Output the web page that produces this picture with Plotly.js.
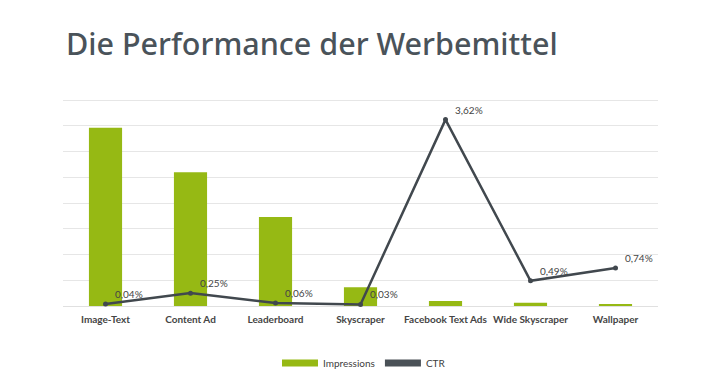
<!DOCTYPE html>
<html><head><meta charset="utf-8">
<script src="https://cdn.plot.ly/plotly-3.0.1.min.js"></script>
<style>html,body{margin:0;padding:0;background:#fff}#chart{width:728px;height:385px}</style>
</head><body><div id="chart"></div>
<script>
const categories = ['Image-Text','Content Ad','Leaderboard','Skyscraper','Facebook Text Ads','Wide Skyscraper','Wallpaper'];
const impressions = [6.92, 5.20, 3.46, 0.73, 0.19, 0.13, 0.08]; // relative units (axis hidden)
const ctr = [0.04, 0.25, 0.06, 0.03, 3.62, 0.49, 0.74]; // percent
const seriesNames = ['Impressions','CTR'];

const green = '#96b914';
const dark = '#41484e';
const font = 'Lato, "Open Sans", sans-serif';

const ctrLabels = ctr.map(v => v.toFixed(2).replace('.', ',') + '%');

const traces = [
  {type:'bar', x:categories, y:impressions, name:seriesNames[0], marker:{color:green},
   width:0.39, showlegend:false, hoverinfo:'skip'},
  {type:'scatter', mode:'lines+markers', x:categories, y:ctr, yaxis:'y2', name:seriesNames[1],
   line:{color:dark, width:2.5}, marker:{color:dark, size:5},
   cliponaxis:false, showlegend:false, hoverinfo:'skip'},
  {type:'scatter', mode:'lines', x:[categories[0]], y:[null], name:seriesNames[0],
   line:{color:green, width:7}, showlegend:true, hoverinfo:'skip'},
  {type:'scatter', mode:'lines', x:[categories[0]], y:[null], name:seriesNames[1], yaxis:'y2',
   line:{color:'#4a5157', width:7}, showlegend:true, hoverinfo:'skip'}
];

const annotations = categories.map((c, i) => ({
  x:c, y:ctr[i], xref:'x', yref:'y2', text:ctrLabels[i], showarrow:false,
  xanchor:'left', yanchor:'middle', xshift:7, yshift:10,
  font:{family:font, size:10, color:'#444'}
}));

const layout = {
  width:728, height:385,
  margin:{l:63, r:70, t:98, b:79},
  paper_bgcolor:'#fff', plot_bgcolor:'#fff',
  font:{family:font, color:'#404040'},
  title:{text:'Die Performance der Werbemittel', x:66/728, xanchor:'left', xref:'container',
         yref:'container', y:1-44/385, yanchor:'middle',
         font:{family:'"Noto Sans", sans-serif', size:30.5, color:'#4a535a', weight:500}},
  xaxis:{type:'category', showline:false, showgrid:false, zeroline:false, ticks:'',
         ticklabelstandoff:6,
         tickfont:{family:font, size:10, color:'#454545', weight:'bold'}},
  yaxis:{range:[0,8.08], dtick:1, showticklabels:false, showgrid:true, gridcolor:'#e6e6e6',
         gridwidth:1, zeroline:true, zerolinecolor:'#e0e0e0', zerolinewidth:1, ticks:''},
  yaxis2:{range:[0,4.04], overlaying:'y', side:'right', showticklabels:false, showgrid:false,
          zeroline:false, ticks:''},
  legend:{orientation:'h', x:0.5, xanchor:'center', xref:'container', y:1-363/385, yref:'container', yanchor:'middle',
          font:{family:font, size:10, color:'#404040'}, itemwidth:36},
  annotations:annotations,
  showlegend:true
};

Plotly.newPlot('chart', traces, layout, {displayModeBar:false, staticPlot:true});
</script></body></html>
